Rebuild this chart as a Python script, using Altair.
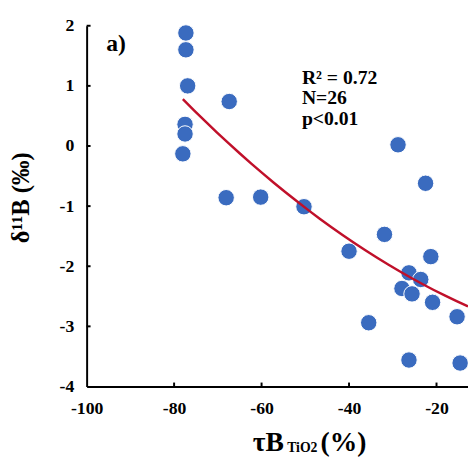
import altair as alt
import pandas as pd

# data
tau_b = [-77.3, -77.3, -76.9, -77.5, -77.5, -78.0, -67.4, -68.1, -60.2, -50.3,
         -28.8, -22.5, -40.0, -31.9, -21.3, -26.3, -23.6, -27.9, -25.6, -20.9,
         -35.5, -15.3, -26.3, -14.6]
d11b = [1.88, 1.60, 1.00, 0.36, 0.20, -0.13, 0.74, -0.86, -0.85, -1.01,
        0.02, -0.62, -1.75, -1.47, -1.84, -2.11, -2.22, -2.37, -2.46, -2.60,
        -2.94, -2.84, -3.56, -3.61]
x_ticks = [-100, -80, -60, -40, -20]
y_ticks = [2, 1, 0, -1, -2, -3, -4]
x_inner_ticks = [-80, -60, -40, -20]
y_inner_ticks = [2, 1, 0, -1, -2, -3]
x_domain = [-100, -12.8]
y_domain = [-4, 2]
fit_extent = [-78, -12.8]
stats_text = ["R² = 0.72", "N=26", "p<0.01"]

W, H = 388, 367
FONT = "Liberation Serif"

df = pd.DataFrame({"x": tau_b, "y": d11b})
xs = alt.Scale(domain=x_domain, nice=False, zero=False)
ys = alt.Scale(domain=y_domain, nice=False, zero=False)

x_axis = alt.Axis(values=x_ticks, title=None, grid=False, ticks=False,
                  domainColor="black", domainWidth=2, labelFont=FONT,
                  labelFontWeight="bold", labelFontSize=18, labelColor="black",
                  labelPadding=13, labelFlush=False,
                  labelExpr="'' + datum.value")
y_axis = alt.Axis(values=y_ticks, title=None, grid=False, ticks=False,
                  domainColor="black", domainWidth=2, labelFont=FONT,
                  labelFontWeight="bold", labelFontSize=18, labelColor="black",
                  labelPadding=13, labelExpr="'' + datum.value")

base = alt.Chart(df)

points = base.mark_circle(size=280, color="#3A6BBF", opacity=1,
                          stroke="white", strokeWidth=1).encode(
    x=alt.X("x:Q", scale=xs, axis=x_axis),
    y=alt.Y("y:Q", scale=ys, axis=y_axis),
)

fit = base.transform_regression("x", "y", method="poly", order=2,
                                extent=fit_extent).mark_line(
    color="#C0102A", strokeWidth=2.5).encode(
    x=alt.X("x:Q", scale=xs), y=alt.Y("y:Q", scale=ys))

xt = alt.Chart(pd.DataFrame({"v": x_inner_ticks})).mark_rule(
    color="black", strokeWidth=2).encode(
    x=alt.X("v:Q", scale=xs), y=alt.value(H), y2=alt.value(H - 4))
yt = alt.Chart(pd.DataFrame({"v": y_inner_ticks})).mark_rule(
    color="black", strokeWidth=2).encode(
    y=alt.Y("v:Q", scale=ys), x=alt.value(0), x2=alt.value(4))

def txt(s, x, y, size, **kw):
    return alt.Chart(pd.DataFrame({"t": [0]})).mark_text(
        font=FONT, fontWeight="bold", fontSize=size, color="black", **kw
    ).encode(text=alt.value(s), x=alt.value(x), y=alt.value(y))

label_a = txt("a)", 20, 26, 24, align="left", baseline="alphabetic")
stats = alt.Chart(pd.DataFrame({"t": [0]})).mark_text(
    font=FONT, fontWeight="bold", fontSize=20, color="black",
    align="left", baseline="alphabetic", lineHeight=21
).encode(text=alt.value(stats_text), x=alt.value(219), y=alt.value(59))

ytitle = txt("δ¹¹B (‰)", -67, 175, 25, align="center", baseline="middle", angle=270)
xt1 = txt("τB", 169, 433, 28, align="left", baseline="alphabetic")
xt2 = txt("TiO2", 204, 434, 14, align="left", baseline="alphabetic")
xt3 = txt("(%)", 238, 433, 28, align="left", baseline="alphabetic")

chart = alt.layer(points, fit, xt, yt, label_a, stats, ytitle, xt1, xt2, xt3).properties(
    width=W, height=H,
    autosize=alt.AutoSizeParams(type="none"),
    padding={"left": 80, "top": 14, "right": 0, "bottom": 87},
    background="white",
).configure_view(stroke=None)

chart.save("out.html", embed_options={"renderer": "svg", "actions": False})
